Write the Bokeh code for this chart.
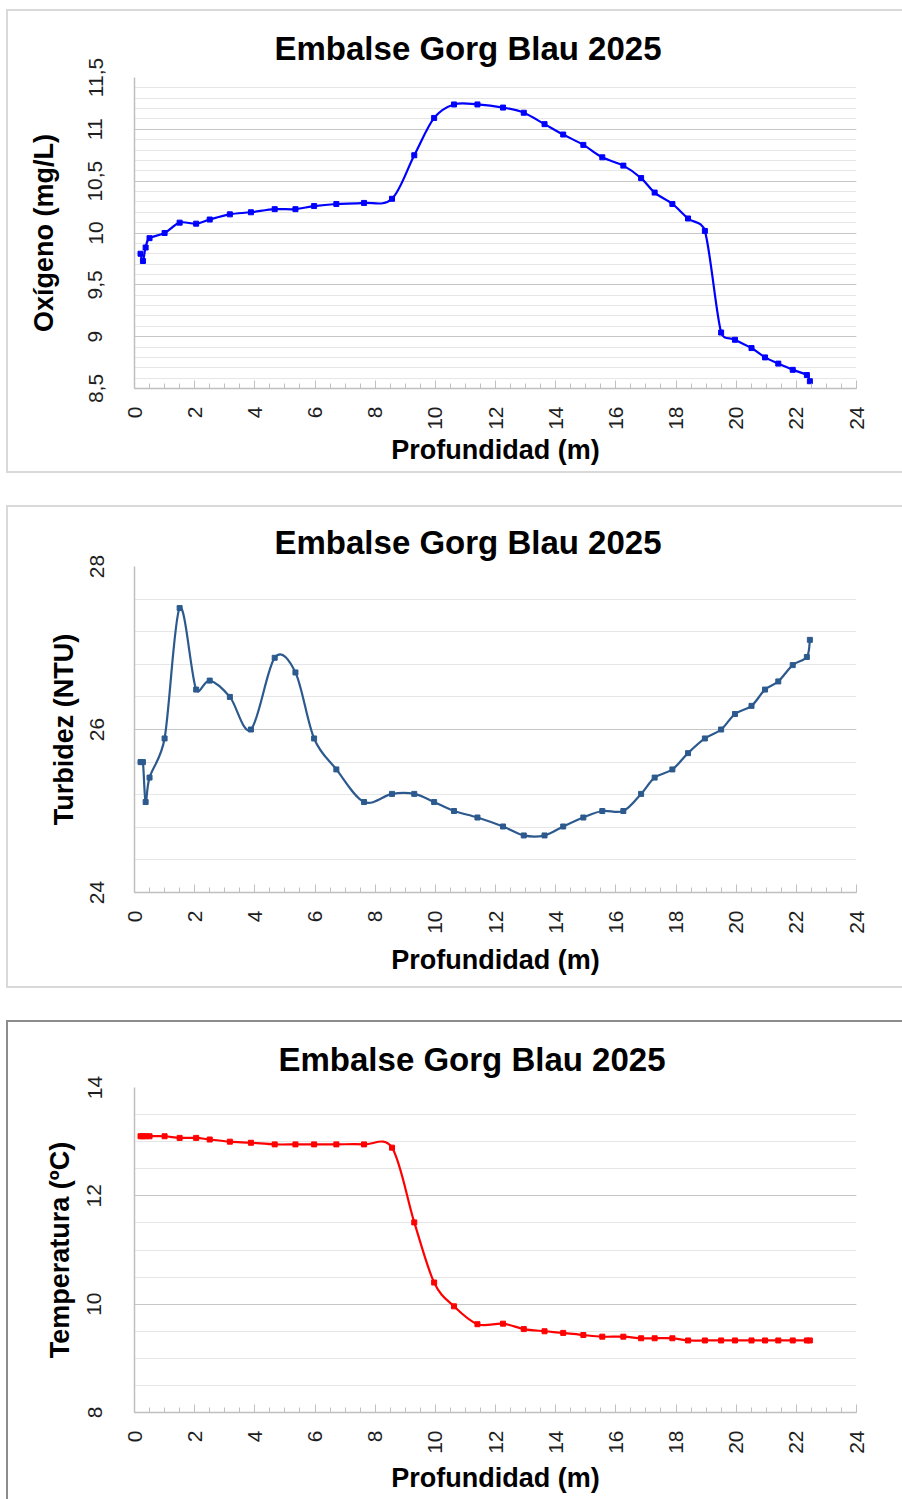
import math
from bokeh.plotting import figure
from bokeh.models import Range1d, FixedTicker
from bokeh.layouts import column
from bokeh.embed import file_html
from bokeh.resources import INLINE

# ---------------- data ----------------
depth = [0.2, 0.28, 0.37, 0.5, 1.0, 1.5, 2.05, 2.5, 3.17, 3.87, 4.66, 5.35, 5.97, 6.71,
         7.63, 8.56, 9.3, 9.96, 10.62, 11.4, 12.25, 12.94, 13.63, 14.25, 14.92, 15.55,
         16.25, 16.84, 17.29, 17.88, 18.4, 18.96, 19.5, 19.96, 20.51, 20.96, 21.4,
         21.88, 22.35, 22.45]

oxygen = [9.8, 9.73, 9.86, 9.95, 10.0, 10.1, 10.09, 10.13, 10.18, 10.2, 10.23, 10.23,
          10.26, 10.28, 10.29, 10.33, 10.75, 11.11, 11.24, 11.24, 11.21, 11.16, 11.05,
          10.95, 10.85, 10.73, 10.65, 10.53, 10.39, 10.28, 10.14, 10.02, 9.04, 8.97,
          8.89, 8.80, 8.74, 8.68, 8.63, 8.57]

turbidity = [25.6, 25.6, 25.11, 25.41, 25.89, 27.49, 26.49, 26.6, 26.4, 26.0, 26.88,
             26.7, 25.89, 25.51, 25.11, 25.21, 25.21, 25.11, 25.0, 24.92, 24.81, 24.7,
             24.7, 24.81, 24.92, 25.0, 25.0, 25.21, 25.41, 25.51, 25.71, 25.89, 26.0,
             26.19, 26.29, 26.49, 26.59, 26.79, 26.89, 27.1]

temperature = [13.1, 13.1, 13.1, 13.1, 13.1, 13.07, 13.07, 13.04, 13.0, 12.98, 12.95,
               12.95, 12.95, 12.95, 12.95, 12.89, 11.51, 10.4, 9.96, 9.63, 9.64, 9.54,
               9.5, 9.47, 9.43, 9.4, 9.4, 9.37, 9.37, 9.37, 9.33, 9.33, 9.33, 9.33, 9.33,
               9.33, 9.33, 9.33, 9.33, 9.33]

title_text = "Embalse Gorg Blau 2025"
x_title = "Profundidad (m)"
x_ticks = [0, 2, 4, 6, 8, 10, 12, 14, 16, 18, 20, 22, 24]
x_minor = [i * 0.5 for i in range(49)]

oxy_ticks = [8.5, 9, 9.5, 10, 10.5, 11, 11.5]
oxy_labels = ["8,5", "9", "9,5", "10", "10,5", "11", "11,5"]
oxy_minor = [8.5 + i * 0.1 for i in range(31)]

turb_ticks = [24, 26, 28]
turb_labels = ["24", "26", "28"]
turb_minor = [24 + i * 0.4 for i in range(11)]

temp_ticks = [8, 10, 12, 14]
temp_labels = ["8", "10", "12", "14"]
temp_minor = [8 + i * 0.5 for i in range(13)]

FONT = "Liberation Sans"


def smooth_segments(xs, ys, kx, ky):
    """Cubic Bezier segments through the data points (Excel-like smoothed line).
    kx, ky: approximate pixels per data unit, used only to shape the curve."""
    n = len(xs)
    px = [x * kx for x in xs]
    py = [y * ky for y in ys]

    def seglen(i, j):
        return math.hypot(px[j] - px[i], py[j] - py[i])

    out = {k: [] for k in ("x0", "y0", "x1", "y1", "cx0", "cy0", "cx1", "cy1")}

    def ctrl(i, j, sign):
        a = max(i - 1, 0)
        b = min(i + 1, n - 1)
        tx = (px[b] - px[a]) / 6.0 * sign
        ty = (py[b] - py[a]) / 6.0 * sign
        L = math.hypot(tx, ty)
        lim = 0.5 * seglen(i, j)
        if L > lim and L > 0:
            tx *= lim / L
            ty *= lim / L
        return (px[i] + tx) / kx, (py[i] + ty) / ky

    for i in range(n - 1):
        out["x0"].append(xs[i]); out["y0"].append(ys[i])
        out["x1"].append(xs[i + 1]); out["y1"].append(ys[i + 1])
        c0 = ctrl(i, i + 1, 1.0)
        c1 = ctrl(i + 1, i, -1.0)
        out["cx0"].append(c0[0]); out["cy0"].append(c0[1])
        out["cx1"].append(c1[0]); out["cy1"].append(c1[1])
    return out


def make_chart(ys, color, yr, yticks, ylabels, yminor, ytitle, height,
               b_left, b_right, b_top, b_bottom, ylab_standoff, ytitle_standoff,
               xtitle_standoff, frame_color, title_offset, title_standoff,
               top_margin):
    p = figure(width=894, height=height, x_range=Range1d(0, 24),
               y_range=Range1d(yr[0], yr[1]), output_backend="svg",
               toolbar_location=None, min_border_left=b_left,
               min_border_right=b_right, min_border_top=b_top,
               min_border_bottom=b_bottom, title=title_text)
    p.outline_line_color = None
    p.background_fill_color = "white"
    p.border_fill_color = "white"
    p.margin = (top_margin, 0, 0, 8)
    p.styles = {"outline": f"2px solid {frame_color}", "outline-offset": "0px"}

    # title
    p.title.align = "left"
    p.title.offset = title_offset
    p.title.standoff = title_standoff
    p.title.text_font = FONT
    p.title.text_font_size = "33px"
    p.title.text_font_style = "bold"
    p.title.text_color = "#000000"

    # x axis
    xa = p.xaxis[0]
    xa.ticker = FixedTicker(ticks=x_ticks, minor_ticks=x_minor)
    xa.major_label_overrides = {t: str(t) for t in x_ticks}
    xa.axis_line_color = "#BFBFBF"
    xa.axis_line_width = 1.5
    xa.major_tick_line_color = "#BFBFBF"
    xa.minor_tick_line_color = "#BFBFBF"
    xa.major_tick_in = 8
    xa.major_tick_out = 0
    xa.minor_tick_in = 5
    xa.minor_tick_out = 0
    xa.major_label_orientation = math.pi / 2
    xa.major_label_standoff = 18
    xa.major_label_text_font = FONT
    xa.major_label_text_font_size = "21px"
    xa.major_label_text_color = "#1F1F1F"
    xa.axis_label = x_title
    xa.axis_label_text_font = FONT
    xa.axis_label_text_font_size = "27px"
    xa.axis_label_text_font_style = "bold"
    xa.axis_label_text_color = "#000000"
    xa.axis_label_standoff = xtitle_standoff

    # y axis
    ya = p.yaxis[0]
    ya.ticker = FixedTicker(ticks=yticks, minor_ticks=yminor)
    ya.major_label_overrides = dict(zip(yticks, ylabels))
    ya.axis_line_color = "#BFBFBF"
    ya.axis_line_width = 1.5
    ya.major_tick_in = 0
    ya.major_tick_out = 0
    ya.minor_tick_in = 0
    ya.minor_tick_out = 0
    ya.major_label_orientation = "vertical"
    ya.major_label_standoff = ylab_standoff
    ya.major_label_text_font = FONT
    ya.major_label_text_font_size = "21px"
    ya.major_label_text_color = "#1F1F1F"
    ya.axis_label = ytitle
    ya.axis_label_text_font = FONT
    ya.axis_label_text_font_size = "27px"
    ya.axis_label_text_font_style = "bold"
    ya.axis_label_text_color = "#000000"
    ya.axis_label_standoff = ytitle_standoff

    # grid
    p.xgrid.visible = False
    p.ygrid.grid_line_color = "#C6C6C6"
    p.ygrid.grid_line_width = 1.2
    p.ygrid.minor_grid_line_color = "#E6E6E6"
    p.ygrid.minor_grid_line_width = 1

    # series
    frame_w = 894 - b_left - b_right
    frame_h = height - b_top - b_bottom
    seg = smooth_segments(depth, ys, frame_w / 24.0, frame_h / (yr[1] - yr[0]))
    p.bezier(x0=seg["x0"], y0=seg["y0"], x1=seg["x1"], y1=seg["y1"],
             cx0=seg["cx0"], cy0=seg["cy0"], cx1=seg["cx1"], cy1=seg["cy1"],
             line_color=color, line_width=2.2)
    p.scatter(depth, ys, marker="square", size=5, fill_color=color,
              line_color=color)
    return p


p1 = make_chart(oxygen, "#0000FF", (8.5, 11.5), oxy_ticks, oxy_labels, oxy_minor,
                "Oxígeno (mg/L)", 460, 126, 41, 66, 83, 32, 27, 2, "#D9D9D9",
                140, 22, 11)
p2 = make_chart(turbidity, "#2D5A8E", (24, 28), turb_ticks, turb_labels, turb_minor,
                "Turbidez (NTU)", 479, 126, 41, 59, 94, 31, 8, 8, "#D9D9D9",
                140, 11, 0)
p3 = make_chart(temperature, "#FF0000", (8, 14), temp_ticks, temp_labels, temp_minor,
                "Temperatura (ºC)", 477, 122, 46, 65, 87, 33, 10, 6, "#8C8C8C",
                144, 20, 0)

layout = column(p1, p2, p3, spacing=36)
open("out.html", "w").write(file_html(layout, INLINE))
